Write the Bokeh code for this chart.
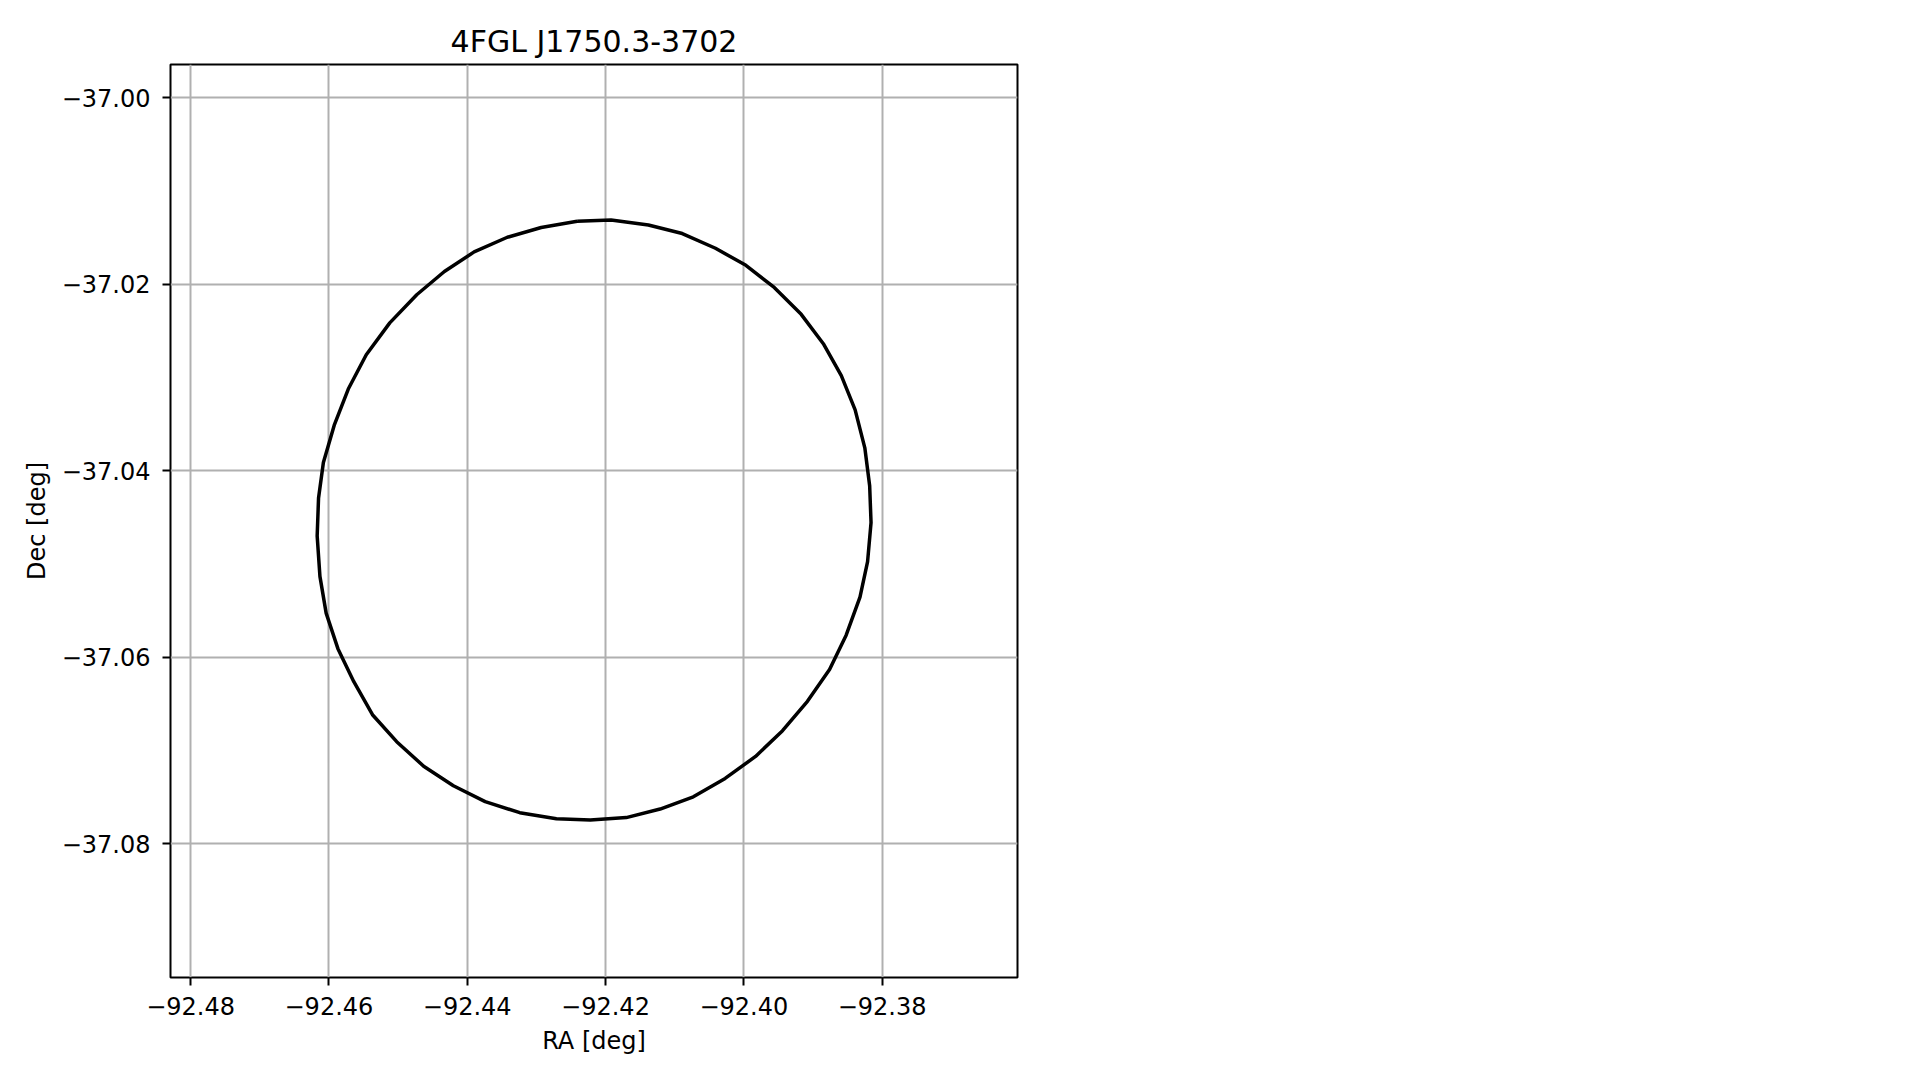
from bokeh.plotting import figure
from bokeh.models import FixedTicker, CustomJSTickFormatter, Range1d
from bokeh.embed import file_html
from bokeh.resources import INLINE

title_text = "4FGL J1750.3-3702"
x_label = "RA [deg]"
y_label = "Dec [deg]"

x_ticks = [-92.48, -92.46, -92.44, -92.42, -92.40, -92.38]
y_ticks = [-37.00, -37.02, -37.04, -37.06, -37.08]

# ellipse outline (RA, Dec)
ra = [-92.4241, -92.4192, -92.4138, -92.4089, -92.4041, -92.3997, -92.3956, -92.3917,
      -92.3885, -92.3859, -92.3839, -92.3825, -92.3818, -92.3816, -92.3821, -92.3832,
      -92.3852, -92.3876, -92.3908, -92.3944, -92.3983, -92.4027, -92.4073, -92.4121,
      -92.4170, -92.4222, -92.4271, -92.4324, -92.4374, -92.4420, -92.4463, -92.4502,
      -92.4537, -92.4564, -92.4587, -92.4604, -92.4613, -92.4617, -92.4615, -92.4608,
      -92.4592, -92.4572, -92.4546, -92.4512, -92.4473, -92.4433, -92.4390, -92.4342,
      -92.4293, -92.4241]
dec = [-37.01327, -37.01314, -37.01366, -37.01458, -37.01616, -37.01799, -37.02036, -37.02324,
       -37.02639, -37.02981, -37.03348, -37.03755, -37.04162, -37.04556, -37.04976, -37.05356,
       -37.05763, -37.06131, -37.06472, -37.06787, -37.07063, -37.07299, -37.07496, -37.07627,
       -37.07719, -37.07745, -37.07732, -37.07666, -37.07548, -37.07378, -37.07168, -37.06905,
       -37.06616, -37.06262, -37.05908, -37.05527, -37.05133, -37.04700, -37.04293, -37.03913,
       -37.03506, -37.03125, -37.02758, -37.02416, -37.02114, -37.01865, -37.01655, -37.01498,
       -37.01393, -37.01327]

FONT = "DejaVu Sans"

p = figure(
    output_backend="svg", toolbar_location=None,
    frame_width=847, frame_height=913,
    min_border_left=170, min_border_top=64, min_border_right=10, min_border_bottom=90,
    x_range=Range1d(-92.48291, -92.36042), y_range=Range1d(-37.09433, -36.99646),
    title=title_text,
)
p.background_fill_color = "white"
p.border_fill_color = "white"
p.outline_line_color = "black"
p.outline_line_width = 2

p.title.align = "center"
p.title.text_font = FONT
p.title.text_font_size = "30px"
p.title.text_font_style = "normal"
p.title.text_color = "black"
p.title.standoff = 12

fmt = CustomJSTickFormatter(code="return tick.toFixed(2).replace('-', '\u2212');")
for ax, ticks, lab in ((p.xaxis[0], x_ticks, x_label), (p.yaxis[0], y_ticks, y_label)):
    ax.ticker = FixedTicker(ticks=ticks)
    ax.formatter = fmt
    ax.axis_label = lab
    ax.axis_label_text_font = FONT
    ax.axis_label_text_font_size = "24px"
    ax.axis_label_text_font_style = "normal"
    ax.axis_label_text_color = "black"
    ax.major_label_text_font = FONT
    ax.major_label_text_font_size = "24px"
    ax.major_label_text_color = "black"
    ax.axis_line_color = None
    ax.major_tick_line_color = "black"
    ax.major_tick_line_width = 2
    ax.major_tick_out = 8
    ax.major_tick_in = 0
    ax.minor_tick_line_color = None

p.xaxis.major_label_standoff = 11
p.yaxis.major_label_standoff = 12
p.xaxis.axis_label_standoff = 9
p.yaxis.axis_label_standoff = 8

p.grid.grid_line_color = "#b0b0b0"
p.grid.grid_line_width = 2

p.line(ra, dec, line_color="black", line_width=3.5)

open("out.html", "w").write(file_html(p, INLINE))
